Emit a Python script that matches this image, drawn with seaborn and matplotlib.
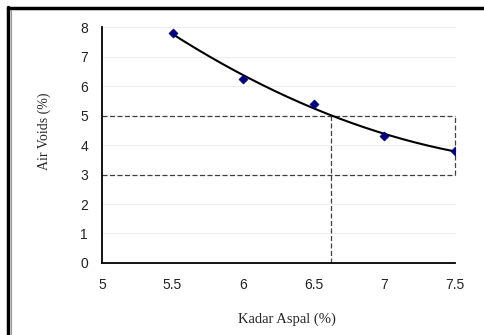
import numpy as np
import pandas as pd
import matplotlib.pyplot as plt
import seaborn as sns
from matplotlib.lines import Line2D
plt.switch_backend('Agg')

# data
kadar_aspal = [5.5, 6.0, 6.5, 7.0, 7.5]
air_voids = [7.8, 6.25, 5.4, 4.3, 3.8]
x_ticks = [5, 5.5, 6, 6.5, 7, 7.5]
y_ticks = [0, 1, 2, 3, 4, 5, 6, 7, 8]
spec_low, spec_high = 3, 5
opt_aspal = 6.62

df = pd.DataFrame({"kadar": kadar_aspal, "voids": air_voids})

sns.set_style("white")
plt.rcParams['font.family'] = ['Liberation Sans', 'DejaVu Sans']

fig = plt.figure(figsize=(4.84, 3.35), dpi=100)
ax = fig.add_axes([0.2107, 0.215, 0.729, 0.704])

# light horizontal gridlines
for yv in y_ticks[1:]:
    ax.plot([5, 7.5], [yv, yv], color='#eeeeee', lw=0.8, zorder=0)

# 2nd order polynomial trendline
coef = np.polyfit(df["kadar"], df["voids"], 2)
xs = np.linspace(5.5, 7.5, 200)
ax.plot(xs, np.polyval(coef, xs), color='black', lw=1.5, zorder=3)

sns.scatterplot(data=df, x="kadar", y="voids", marker='D', s=22,
                color='#000080', edgecolor='#000080', ax=ax, zorder=4)

# spec limits (dashed)
dash = dict(color='#404040', lw=0.9, ls=(0, (4, 2)), zorder=2)
ax.plot([5, 7.5], [spec_high, spec_high], **dash)
ax.plot([5, 7.5], [spec_low, spec_low], **dash)
ax.plot([7.5, 7.5], [spec_low, spec_high], **dash)
ax.plot([opt_aspal, opt_aspal], [0, spec_high], **dash)

ax.set_xlim(5, 7.5)
ax.set_ylim(0, 8)
ax.set_xticks(x_ticks)
ax.set_xticklabels(['5', '5.5', '6', '6.5', '7', '7.5'])
ax.set_yticks(y_ticks)
ax.tick_params(axis='both', direction='out', length=4, width=1, color='black',
               labelsize=10, pad=6, labelcolor='#222222')
ax.tick_params(axis='x', pad=7)
for s in ['top', 'right']:
    ax.spines[s].set_visible(False)
for s in ['left', 'bottom']:
    ax.spines[s].set_color('black')
    ax.spines[s].set_linewidth(1.3)
for ln in ax.lines:
    ln.set_clip_on(False)

ax.set_xlabel("Kadar Aspal (%)", family='Liberation Serif', fontsize=10.5)
ax.set_ylabel("Air Voids (%)", family='Liberation Serif', fontsize=10)
ax.xaxis.set_label_coords(0.524, -0.21)
ax.yaxis.set_label_coords(-0.145, 0.56)

# frame lines along top and left edge
fig.add_artist(Line2D([0.016, 1.0], [0.975, 0.975], color='black', lw=2.5,
                      transform=fig.transFigure))
fig.add_artist(Line2D([0.017, 0.017], [0.0, 0.978], color='black', lw=2.5,
                      transform=fig.transFigure))
fig.add_artist(Line2D([0.0225, 0.0225], [0.0, 0.97], color='#999999', lw=0.8,
                      transform=fig.transFigure))

plt.savefig("out.png", dpi=100)
